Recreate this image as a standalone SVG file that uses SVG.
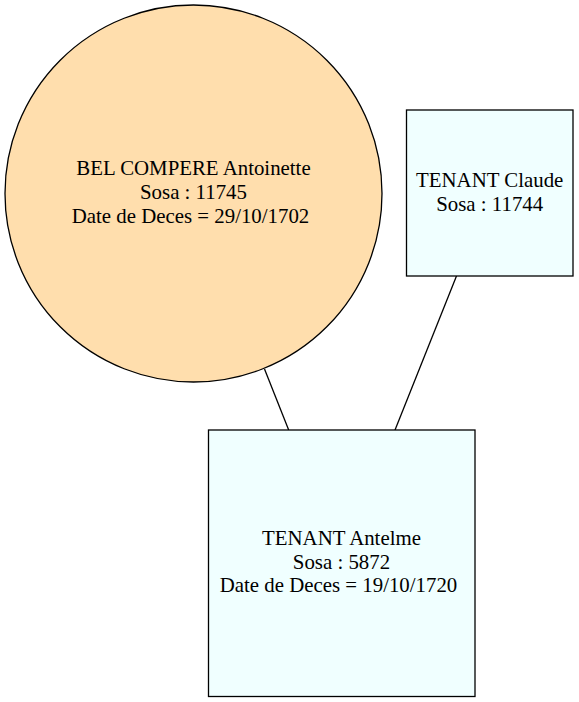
<svg xmlns="http://www.w3.org/2000/svg" width="579" height="702" viewBox="0 0 579 702">
<style>
.t{font-family:"Liberation Serif","Times New Roman",serif;font-size:20.85px;fill:#000;text-anchor:middle}
.box{fill:#f0ffff;stroke:#000;stroke-width:1.3}
.circ{fill:#ffdead;stroke:#000;stroke-width:1.3}
.edge{stroke:#000;stroke-width:1.3;fill:none}
</style>
<rect width="579" height="702" fill="#fff"/>
<g id="edges">
<line class="edge" x1="264.5" y1="369" x2="288.7" y2="430"/>
<line class="edge" x1="456.5" y1="276" x2="395" y2="430"/>
</g>
<g id="node-bel-compere">
<circle class="circ" cx="193.5" cy="193.5" r="188.5"/>
<text class="t" x="193.5" y="175">BEL COMPERE Antoinette</text>
<text class="t" x="193.5" y="198.7">Sosa : 11745</text>
<text class="t" x="190.5" y="222.5">Date de Deces = 29/10/1702</text>
</g>
<g id="node-tenant-claude">
<rect class="box" x="406.5" y="110" width="166.5" height="166"/>
<text class="t" x="489.7" y="187.3">TENANT Claude</text>
<text class="t" x="489.7" y="210.7">Sosa : 11744</text>
</g>
<g id="node-tenant-antelme">
<rect class="box" x="208.5" y="430" width="266.5" height="266.5"/>
<text class="t" x="341.5" y="545">TENANT Antelme</text>
<text class="t" x="341.5" y="568.7">Sosa : 5872</text>
<text class="t" x="338.5" y="592.3">Date de Deces = 19/10/1720</text>
</g>
</svg>
